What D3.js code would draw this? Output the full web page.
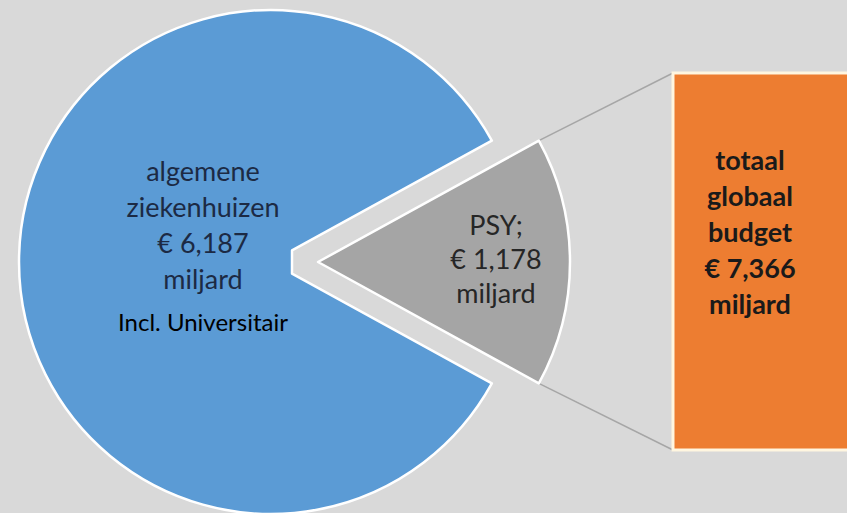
<!DOCTYPE html>
<html>
<head>
<meta charset="utf-8">
<script src="https://cdn.jsdelivr.net/npm/d3@7/dist/d3.min.js"></script>
<style>
  body { margin: 0; background: #d9d9d9; }
  svg { display: block; }
</style>
</head>
<body>
<div id="chart"></div>
<script>
// Data
const categories = ['PSY', 'algemene ziekenhuizen'];
const values = [1.178, 6.187];
const totalValue = 7.366;
const psyLabel = ['PSY;', '€ 1,178', 'miljard'];
const generalLabel = ['algemene', 'ziekenhuizen', '€ 6,187', 'miljard'];
const generalNote = 'Incl. Universitair';
const totalLabel = ['totaal', 'globaal', 'budget', '€ 7,366', 'miljard'];

const width = 847;
const height = 513;
const cx = 271, cy = 262, radius = 252;
const explode = 47;   // psy slice pulled out to the right
const notch = 21;     // flat tip of the big slice

const svg = d3.select('#chart').append('svg')
  .attr('width', width)
  .attr('height', height);

svg.append('rect')
  .attr('width', width)
  .attr('height', height)
  .attr('fill', '#d9d9d9');

// Pie angles: small slice centred on 3 o'clock
const small = 2 * Math.PI * values[0] / d3.sum(values);
const start = Math.PI / 2 - small / 2;
const pie = d3.pie().sort(null).startAngle(start).endAngle(start + 2 * Math.PI);
const slices = pie(values);

const pt = (a, r, ox = cx) => [ox + r * Math.sin(a), cy - r * Math.cos(a)];

// Big slice (blue), tip cut flat
const big = slices[1];
const n = notch / Math.sin(big.startAngle);
const p = d3.path();
const a0 = pt(big.startAngle, n);
const a1 = pt(big.startAngle, radius);
p.moveTo(a0[0], a0[1]);
p.lineTo(a1[0], a1[1]);
p.arc(cx, cy, radius, big.startAngle - Math.PI / 2, big.endAngle - Math.PI / 2, false);
const b0 = pt(big.endAngle, n);
p.lineTo(b0[0], b0[1]);
p.closePath();

svg.append('path')
  .attr('d', p.toString())
  .attr('fill', '#5b9bd5')
  .attr('stroke', '#ffffff')
  .attr('stroke-width', 2.5)
  .attr('stroke-linejoin', 'round');

// Bar of total
const y = d3.scaleLinear().domain([0, totalValue]).range([450, 73]);
const barX = 673;

// Connector lines from small slice to bar
const sx = cx + explode;
const cTop = pt(slices[0].startAngle, radius, sx);
const cBot = pt(slices[0].endAngle, radius, sx);
svg.append('line')
  .attr('x1', cTop[0]).attr('y1', cTop[1])
  .attr('x2', barX).attr('y2', y(totalValue))
  .attr('stroke', '#a6a6a6').attr('stroke-width', 1.5);
svg.append('line')
  .attr('x1', cBot[0]).attr('y1', cBot[1])
  .attr('x2', barX).attr('y2', y(0))
  .attr('stroke', '#a6a6a6').attr('stroke-width', 1.5);

// Small slice (grey)
const arc = d3.arc().innerRadius(0).outerRadius(radius);
svg.append('path')
  .attr('transform', `translate(${sx},${cy})`)
  .attr('d', arc(slices[0]))
  .attr('fill', '#a5a5a5')
  .attr('stroke', '#ffffff')
  .attr('stroke-width', 2.5)
  .attr('stroke-linejoin', 'round');

svg.append('rect')
  .attr('x', barX)
  .attr('y', y(totalValue))
  .attr('width', width - barX + 10)
  .attr('height', y(0) - y(totalValue))
  .attr('fill', '#ed7d31')
  .attr('stroke', '#fff6e0')
  .attr('stroke-width', 3);

// Labels
const font = 'Lato, "Open Sans", sans-serif';

svg.append('g')
  .selectAll('text')
  .data(generalLabel)
  .join('text')
  .attr('x', 203)
  .attr('y', (d, i) => 181 + i * 36)
  .attr('text-anchor', 'middle')
  .attr('font-family', font)
  .attr('font-size', 27)
  .attr('fill', '#1c2a44')
  .text(d => d);

svg.append('text')
  .attr('x', 203)
  .attr('y', 331)
  .attr('text-anchor', 'middle')
  .attr('font-family', font)
  .attr('font-size', 24)
  .attr('fill', '#000000')
  .text(generalNote);

svg.append('g')
  .selectAll('text')
  .data(psyLabel)
  .join('text')
  .attr('x', 496)
  .attr('y', (d, i) => 235 + i * 34)
  .attr('text-anchor', 'middle')
  .attr('font-family', font)
  .attr('font-size', 27)
  .attr('fill', '#262626')
  .text(d => d);

svg.append('g')
  .selectAll('text')
  .data(totalLabel)
  .join('text')
  .attr('x', 750)
  .attr('y', (d, i) => 170 + i * 36)
  .attr('text-anchor', 'middle')
  .attr('font-family', font)
  .attr('font-size', 27)
  .attr('font-weight', 'bold')
  .attr('fill', '#1a1a1a')
  .text(d => d);
</script>
</body>
</html>
